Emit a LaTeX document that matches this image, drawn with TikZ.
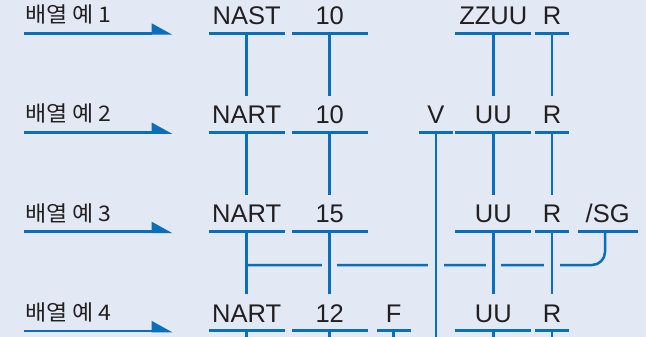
\documentclass[tikz,border=0pt]{standalone}
\usepackage{fontspec}
\setmainfont{Liberation Sans}
\newfontfamily\krfont[FakeStretch=1.07]{Noto Sans CJK KR}
\definecolor{bgc}{HTML}{E2E8F4}
\definecolor{lineblue}{HTML}{0A6FBA}
\definecolor{ink}{HTML}{231F20}
\begin{document}
\begin{tikzpicture}[x=1pt,y=-1pt,
  field/.style={inner xsep=0pt, inner ysep=8.5pt, text height=19pt, text depth=0pt,
    font=\fontsize{25.5}{26}\selectfont, text=ink, anchor=south},
  wide/.style={field, minimum width=75.3pt},
  narrow/.style={field, minimum width=34pt},
  uline/.style={draw=lineblue, line width=2.7pt},
  link/.style={draw=lineblue, line width=2.5pt},
  gapmask/.style={draw=bgc, line width=5pt},
  krlabel/.style={anchor=base west, inner sep=0pt, text=ink,
    font=\krfont\fontsize{21.5}{23}\selectfont},
  pointer/.style={draw=lineblue, line width=2.7pt},
  pointerhead/.style={fill=lineblue}]

% background and page size
\path[use as bounding box, fill=bgc] (0,0) rectangle (646,337);

\coordinate (bot) at (0,337);
\coordinate (busy) at (0,265);
\coordinate (sgx) at (605,0);

% row labels with their pointers
\foreach \k/\lab in {0/1,1/2,2/3,3/4}{
  \pgfmathsetmacro{\ry}{33.3+99.2*\k}
  \node[krlabel] (lab\lab) at (25,\ry-10.6) {배열 예 \lab};
  \coordinate (ps\lab) at (24,\ry);
  \coordinate (pe\lab) at (152,\ry);
  \draw[pointer] (ps\lab) -- (pe\lab);
  \fill[pointerhead] (pe\lab) ++(-0.3,-10) -- ++(0,11.4) -- ++(20.6,0) -- cycle;
}

% row 1
\node[wide]   (a1) at (246.7,33.2) {NAST};
\node[wide]   (b1) at (329.7,33.2) {10};
\node[wide]   (u1) at (493.3,33.2) {ZZUU};
\node[narrow] (r1) at (552,33.2)   {R};
% row 2
\node[wide]   (a2) at (246.7,132.4) {NART};
\node[wide]   (b2) at (329.7,132.4) {10};
\node[narrow] (v2) at (435.8,132.4) {V};
\node[wide]   (u2) at (493.3,132.4) {UU};
\node[narrow] (r2) at (552,132.4)   {R};
% row 3
\node[wide]   (a3) at (246.7,231.6) {NART};
\node[wide]   (b3) at (329.7,231.6) {15};
\node[wide]   (u3) at (493.3,231.6) {UU};
\node[narrow] (r3) at (552,231.6)   {R};
\node[field, minimum width=59.3pt] (s3) at (607.7,231.6) {/SG};
% row 4
\node[wide]   (a4) at (246.7,330.8) {NART};
\node[wide]   (b4) at (329.7,330.8) {12};
\node[narrow] (f4) at (393.7,330.8) {F};
\node[wide]   (u4) at (493.3,330.8) {UU};
\node[narrow] (r4) at (552,330.8)   {R};

% horizontal bus from /SG back to the first column
\draw[link, rounded corners=13pt] (s3.south -| sgx) -- (sgx |- busy) -- (a3.south |- busy);
% gaps where the columns cross the bus
\foreach \n in {b3,v2,u3,r3}
  \draw[gapmask] (\n.south |- busy) ++(-7.7,0) -- ++(15.4,0);

% vertical links between rows
\foreach \c in {a,b,u,r}{
  \draw[link] (\c1.south) -- (\c2.north);
  \draw[link] (\c2.south) -- (\c3.north);
  \draw[link] (\c3.south) -- (\c4.north);
  \draw[link] (\c4.south) -- (\c4.south |- bot);
}
\draw[link] (v2.south) -- (v2.south |- bot);
\draw[link] (f4.south) -- (f4.south |- bot);

% underlines of the fields
\foreach \n in {a1,b1,u1,r1,a2,b2,v2,u2,r2,a3,b3,u3,r3,s3,a4,b4,f4,u4,r4}
  \draw[uline] (\n.south west) -- (\n.south east);
\end{tikzpicture}
\end{document}
